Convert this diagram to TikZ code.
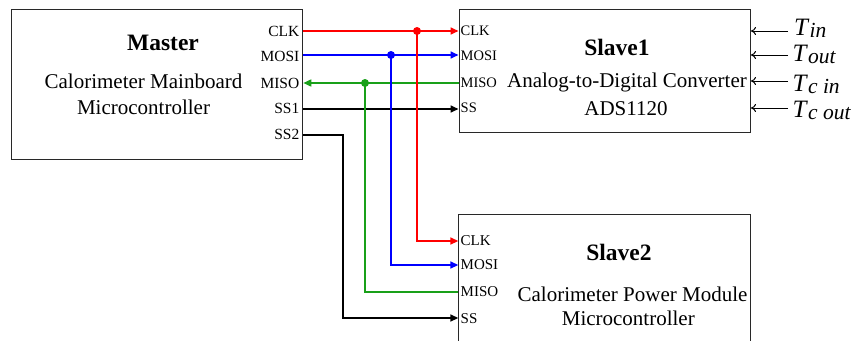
\documentclass[tikz,border=0pt]{standalone}
\usepackage{fontspec}
\setmainfont{Liberation Serif}
\usetikzlibrary{arrows.meta}
\definecolor{cred}{RGB}{255,0,0}
\definecolor{cblue}{RGB}{0,0,255}
\definecolor{cgreen}{RGB}{25,160,25}
\definecolor{cbox}{RGB}{40,40,40}
\begin{document}
\begin{tikzpicture}[x=1pt,y=-1pt,
  box/.style={draw=cbox,line width=1pt,fill=white,anchor=north west,inner sep=0pt},
  body/.style={font=\fontsize{21}{25}\selectfont,anchor=base,inner sep=0pt},
  title/.style={font=\fontsize{23.5}{28}\selectfont\bfseries,anchor=base,inner sep=0pt},
  mpin/.style={font=\fontsize{15.5}{18}\selectfont,anchor=base east,inner sep=0pt},
  spin/.style={font=\fontsize{14.5}{17}\selectfont,anchor=base west,inner sep=0pt},
  tlab/.style={anchor=base west,inner sep=0pt},
  wire/.style={line width=1.6pt},
  tip/.style={-{Triangle[length=8pt,width=7pt]}},
  dot/.style={circle,fill,inner sep=0pt,minimum size=8pt},
  tin/.style={line width=1pt,-{To[length=5pt,width=8pt]}}
]
\useasboundingbox (0,0) rectangle (858,340);
\fill[white] (0,0) rectangle (858,340);

% boxes
\node[box,minimum width=291.3pt,minimum height=149.7pt] (M) at (11,9.3) {};
\node[box,minimum width=291.5pt,minimum height=122.4pt] (S1) at (458.5,9.3) {};
\node[box,minimum width=291.7pt,minimum height=150pt] (S2) at (458.3,214.3) {};

% master text
\node[title] (mt) at (163,50) {Master};
\node[body] (mt1) at (143.5,88.3) {Calorimeter Mainboard};
\node[body] (mt2) at (143.5,114.3) {Microcontroller};
\node[mpin] (mclk) at (299.5,36) {CLK};
\node[mpin] (mmosi) at (299.5,61) {MOSI};
\node[mpin] (mmiso) at (299.5,88.3) {MISO};
\node[mpin] (mss1) at (299.5,113.3) {SS1};
\node[mpin] (mss2) at (299.5,139.3) {SS2};

% slave1 text
\node[title] (s1t) at (617,55) {Slave1};
\node[body] (s1t1) at (627,87.3) {Analog-to-Digital Converter};
\node[body] (s1t2) at (626,115) {ADS1120};
\node[spin] (s1clk) at (460.5,35.7) {CLK};
\node[spin] (s1mosi) at (460.5,60) {MOSI};
\node[spin] (s1miso) at (460.5,87.3) {MISO};
\node[spin] (s1ss) at (460.5,112.3) {SS};

% slave2 text
\node[title] (s2t) at (619,260) {Slave2};
\node[body] (s2t1) at (632.5,301) {Calorimeter Power Module};
\node[body] (s2t2) at (628.3,325.7) {Microcontroller};
\node[spin,font=\fontsize{15}{18}\selectfont] (s2clk) at (460.5,245.5) {CLK};
\node[spin,font=\fontsize{15}{18}\selectfont] (s2mosi) at (460.5,269.5) {MOSI};
\node[spin,font=\fontsize{15}{18}\selectfont] (s2miso) at (460.5,296.5) {MISO};
\node[spin,font=\fontsize{15}{18}\selectfont] (s2ss) at (460.5,323) {SS};

% port coordinates
\coordinate (pMclk) at (M.north east |- 0,31);
\coordinate (pMmosi) at (M.north east |- 0,55);
\coordinate (pMmiso) at (M.north east |- 0,83);
\coordinate (pMss1) at (M.north east |- 0,109);
\coordinate (pMss2) at (M.north east |- 0,135);
\coordinate (pS1clk) at (S1.north west |- 0,31);
\coordinate (pS1mosi) at (S1.north west |- 0,55);
\coordinate (pS1miso) at (S1.north west |- 0,83);
\coordinate (pS1ss) at (S1.north west |- 0,109);
\coordinate (pS2clk) at (S2.north west |- 0,241);
\coordinate (pS2mosi) at (S2.north west |- 0,265);
\coordinate (pS2miso) at (S2.north west |- 0,292);
\coordinate (pS2ss) at (S2.north west |- 0,318);
\coordinate (jclk) at (417,31);
\coordinate (jmosi) at (391,55);
\coordinate (jmiso) at (365,83);
\coordinate (jss2) at (343,135);

% wires
\draw[wire,cred,tip] (pMclk) -- (pS1clk);
\draw[wire,cblue,tip] (pMmosi) -- (pS1mosi);
\draw[wire,cgreen,tip] (pS1miso) -- (pMmiso);
\draw[wire,black,tip] (pMss1) -- (pS1ss);
\draw[wire,cred,tip] (jclk) |- (pS2clk);
\draw[wire,cblue,tip] (jmosi) |- (pS2mosi);
\draw[wire,cgreen] (jmiso) |- (pS2miso);
\draw[wire,black,tip] (pMss2) -- (jss2) |- (pS2ss);
\node[dot,cred] (dclk) at (jclk) {};
\node[dot,cblue] (dmosi) at (jmosi) {};
\node[dot,cgreen] (dmiso) at (jmiso) {};

% temperature inputs
\node[tlab] (tin) at (794,35.5) {\fontsize{25}{28}\selectfont\textit{T}\raisebox{-1.5pt}{\fontsize{21.5}{24}\selectfont\textit{in}}};
\node[tlab] (tout) at (792.5,61.5) {\fontsize{25}{28}\selectfont\textit{T}\raisebox{-1.5pt}{\fontsize{21.5}{24}\selectfont\textit{out}}};
\node[tlab] (tcin) at (792.5,91.5) {\fontsize{25}{28}\selectfont\textit{T}\raisebox{-2pt}{\fontsize{21.5}{24}\selectfont\textit{c in}}};
\node[tlab] (tcout) at (792.5,117.5) {\fontsize{25}{28}\selectfont\textit{T}\raisebox{-2pt}{\fontsize{21.5}{24}\selectfont\textit{c out}}};
\coordinate (e1) at (788,31);
\coordinate (e2) at (788,55);
\coordinate (e3) at (788,81);
\coordinate (e4) at (788,108);
\draw[tin] (e1) -- (S1.east |- e1);
\draw[tin] (e2) -- (S1.east |- e2);
\draw[tin] (e3) -- (S1.east |- e3);
\draw[tin] (e4) -- (S1.east |- e4);
\end{tikzpicture}
\end{document}
